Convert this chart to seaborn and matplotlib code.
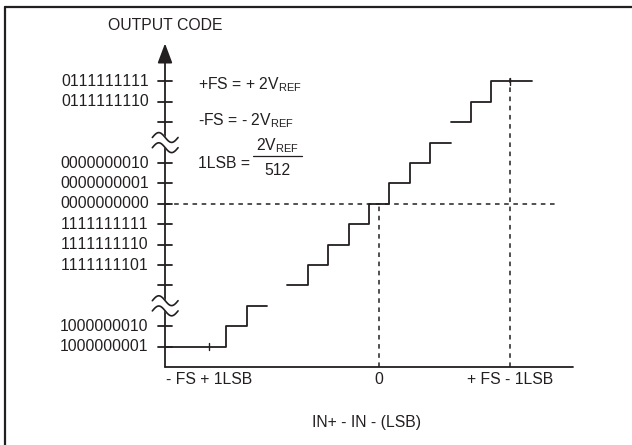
import numpy as np
import pandas as pd
import matplotlib
matplotlib.use('Agg')
import matplotlib.pyplot as plt
import seaborn as sns
from matplotlib.lines import Line2D

# 코드 레벨 (y축 눈금)
code_labels = ['1000000001', '1000000010', '1111111101', '1111111110', '1111111111',
               '0000000000', '0000000001', '0000000010', '0111111110', '0111111111']
code_levels = [1, 2, 5, 6, 7, 8, 9, 10, 13, 14]
blank_levels = [4, 12]
break_levels = [3, 11]

# 계단 구간들
step_seg = [0, 0, 0, 0,
            1, 1, 1, 1, 1, 1, 1, 1, 1,
            2, 2, 2, 2]
step_x = [0, 3, 4, 5,
          6, 7, 8, 9, 10, 11, 12, 13, 14,
          14, 15, 16, 18]
step_y = [1, 2, 3, 3,
          4, 5, 6, 7, 8, 9, 10, 11, 11,
          12, 13, 14, 14]

# x축 라벨
x_ticks = [2.15, 10.5, 16.9]
x_labels = ['- FS + 1LSB', '0', '+ FS - 1LSB']
zero_code = 8
top_code = 14

sns.set_style('white')
plt.rcParams['font.family'] = ['Liberation Sans', 'DejaVu Sans']
plt.rcParams['mathtext.fontset'] = 'custom'
plt.rcParams['mathtext.rm'] = 'Liberation Sans'
plt.rcParams['mathtext.it'] = 'Liberation Sans'
plt.rcParams['text.kerning_factor'] = 20   # "11" 커닝 없애기

ink = '#231f20'
fs = 11.3
sc = 20.4

fig = plt.figure(figsize=(6.32, 4.45), dpi=100)
ax = fig.add_axes([0, 0, 1, 1])
ax.set_xlim(-165 / sc, (632 - 165) / sc)
ax.set_ylim(-(445 - 367) / sc, 367 / sc)
ax.axis('off')

df = pd.DataFrame({'x': step_x, 'code': step_y, 'seg': step_seg})
sns.lineplot(data=df, x='x', y='code', units='seg', estimator=None, sort=False,
             drawstyle='steps-post', color=ink, linewidth=1.3, legend=False, ax=ax)

# 점선
dash = dict(color=ink, linewidth=1.1, linestyle=(0, (3, 3)))
ax.plot([0, 19.3], [zero_code, zero_code], **dash)
ax.plot([x_ticks[1], x_ticks[1]], [0, zero_code], **dash)
ax.plot([x_ticks[2], x_ticks[2]], [0, top_code + 0.15], **dash)

# 축
ax.plot([0, 20], [0, 0], color=ink, linewidth=1.3)
ax.plot([0, 0], [0, 15.2], color=ink, linewidth=1.3)
ax.annotate('', xy=(0, 16.0), xytext=(0, 15.0),
            arrowprops=dict(arrowstyle='-|>,head_length=1.2,head_width=0.45',
                            color=ink, lw=1.3))

# y 눈금
for lv, lab in zip(code_levels, code_labels):
    ax.plot([-0.34, 0.34], [lv, lv], color=ink, linewidth=1.3)
    ax.text(-0.8, lv, lab, ha='right', va='center', fontsize=fs, color=ink)
for lv in blank_levels:
    ax.plot([-0.34, 0.34], [lv, lv], color=ink, linewidth=1.3)

# 축 끊김 표시
t = np.linspace(0, 1, 60)
wx = -0.62 + 1.26 * t
for lv in break_levels:
    up = lv + 0.25 + 0.24 * np.sin(2 * np.pi * t)
    lo = lv - 0.25 + 0.24 * np.sin(2 * np.pi * t)
    ax.fill_between(wx, lo, up, color='white', zorder=5)
    ax.plot(wx, up, color=ink, linewidth=1.2, zorder=6)
    ax.plot(wx, lo, color=ink, linewidth=1.2, zorder=6)

# x 눈금 (계단 위 작은 표시)
ax.plot([x_ticks[0]] * 2, [1 - 0.18, 1 + 0.18], color=ink, linewidth=1.0)
ax.plot([x_ticks[2]] * 2, [top_code - 0.18, top_code + 0.18], color=ink, linewidth=1.0)
for xv, lab in zip(x_ticks, x_labels):
    ax.text(xv, -0.6, lab, ha='center', va='center', fontsize=fs, color=ink)

ax.text(0, 16.76, 'OUTPUT CODE', ha='center', va='center', fontsize=fs, color=ink)
ax.text(9.9, -2.7, 'IN+ - IN - (LSB)', ha='center', va='center', fontsize=fs, color=ink)

# 정의 텍스트
ax.text(1.62, 13.63, r'+FS = + 2V$_{\rm REF}$', ha='left', va='baseline', fontsize=fs, color=ink)
ax.text(1.62, 11.86, r'-FS = - 2V$_{\rm REF}$', ha='left', va='baseline', fontsize=fs, color=ink)
ax.text(1.62, 9.75, '1LSB =', ha='left', va='baseline', fontsize=fs, color=ink)
ax.text(5.5, 10.6, r'2V$_{\rm REF}$', ha='center', va='baseline', fontsize=fs, color=ink)
ax.plot([4.3, 6.7], [10.32, 10.32], color=ink, linewidth=0.9)
ax.text(5.5, 9.42, '512', ha='center', va='baseline', fontsize=fs, color=ink)

# 바깥 테두리
fig.add_artist(Line2D([5 / 632, 1], [1 - 7 / 445, 1 - 7 / 445], color=ink, linewidth=1.6))
fig.add_artist(Line2D([5 / 632, 5 / 632], [0, 1 - 7 / 445], color=ink, linewidth=1.6))

fig.savefig('out.png', dpi=100)
